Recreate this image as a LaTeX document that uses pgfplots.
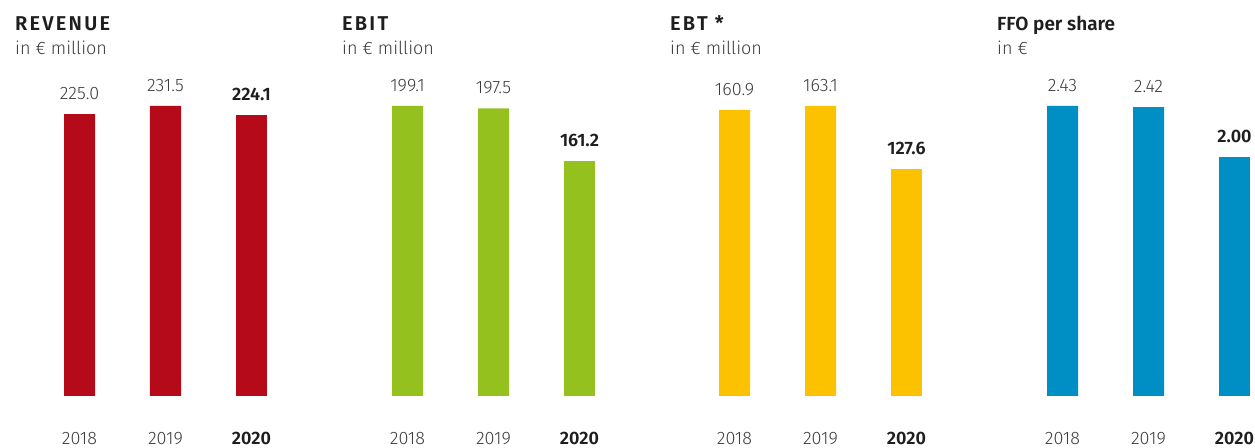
\documentclass[border=0pt]{standalone}
\usepackage{pgfplots}
\pgfplotsset{compat=1.18}
\usepackage{fontspec}
\setmainfont{Fira Sans}[UprightFont=* Light, BoldFont=* SemiBold]
\definecolor{rev}{RGB}{181,10,26}
\definecolor{ebit}{RGB}{149,193,31}
\definecolor{ebt}{RGB}{252,194,0}
\definecolor{ffo}{RGB}{0,143,197}
\definecolor{txt}{RGB}{60,60,60}
\definecolor{dark}{RGB}{30,30,30}
\newcommand{\numfont}{\fontsize{18}{20}\selectfont}
\pgfplotsset{
  panel/.style={
    scale only axis, width=258pt, height=290pt,
    anchor=south west,
    xmin=-0.5, xmax=2.5, ymin=0,
    axis line style={draw=none}, tick style={draw=none}, ytick=\empty,
    xtick={0,1,2},
    xticklabels={2018,2019,\textcolor{dark}{\bfseries 2020}},
    xticklabel style={anchor=base, yshift=-44pt, font=\numfont, text=txt, inner sep=0pt},
    ybar, bar width=31pt, bar shift=0pt,
    clip=false,
    nodes near coords, point meta=explicit symbolic,
    every node near coord/.append style={anchor=base, yshift=14.5pt, font=\numfont, text=txt, inner sep=0pt},
  },
  boldlab/.style={every node near coord/.append style={font=\numfont\bfseries, text=dark}},
}
\begin{document}
\begin{tikzpicture}
\useasboundingbox (0,0) rectangle (1255pt,447pt);
% Revenue
\begin{axis}[panel, at={(36.5pt,51pt)}, ymax=231.5]
\addplot[fill=rev, draw=none] coordinates {(0,225.0) [225.0] (1,231.5) [231.5]};
\addplot[fill=rev, draw=none, boldlab] coordinates {(2,224.1) [224.1]};
\end{axis}
% EBIT
\begin{axis}[panel, at={(364.5pt,51pt)}, ymax=199.1]
\addplot[fill=ebit, draw=none] coordinates {(0,199.1) [199.1] (1,197.5) [197.5]};
\addplot[fill=ebit, draw=none, boldlab] coordinates {(2,161.2) [161.2]};
\end{axis}
% EBT
\begin{axis}[panel, at={(691.5pt,51pt)}, ymax=163.1]
\addplot[fill=ebt, draw=none] coordinates {(0,160.9) [160.9] (1,163.1) [163.1]};
\addplot[fill=ebt, draw=none, boldlab] coordinates {(2,127.6) [127.6]};
\end{axis}
% FFO
\begin{axis}[panel, at={(1019.5pt,51pt)}, ymax=2.43]
\addplot[fill=ffo, draw=none] coordinates {(0,2.43) [2.43] (1,2.42) [2.42]};
\addplot[fill=ffo, draw=none, boldlab] coordinates {(2,2.00) [2.00]};
\end{axis}
% titles
\tikzset{ttl/.style={anchor=base west, inner sep=0pt, text=dark, font=\fontsize{20}{22}\selectfont\bfseries\addfontfeature{LetterSpace=11}},
         sub/.style={anchor=base west, inner sep=0pt, text=txt, font=\fontsize{18}{20}\selectfont}}
\node[ttl] at (15pt,416pt) {REVENUE};
\node[sub] at (15pt,392pt) {in € million};
\node[ttl] at (342pt,416pt) {EBIT};
\node[sub] at (342pt,392pt) {in € million};
\node[ttl] at (670pt,416pt) {EBT *};
\node[sub] at (670pt,392pt) {in € million};
\node[ttl, font=\fontsize{19}{22}\selectfont\bfseries] at (997pt,416pt) {FFO per share};
\node[sub] at (997pt,392pt) {in €};
\end{tikzpicture}
\end{document}
